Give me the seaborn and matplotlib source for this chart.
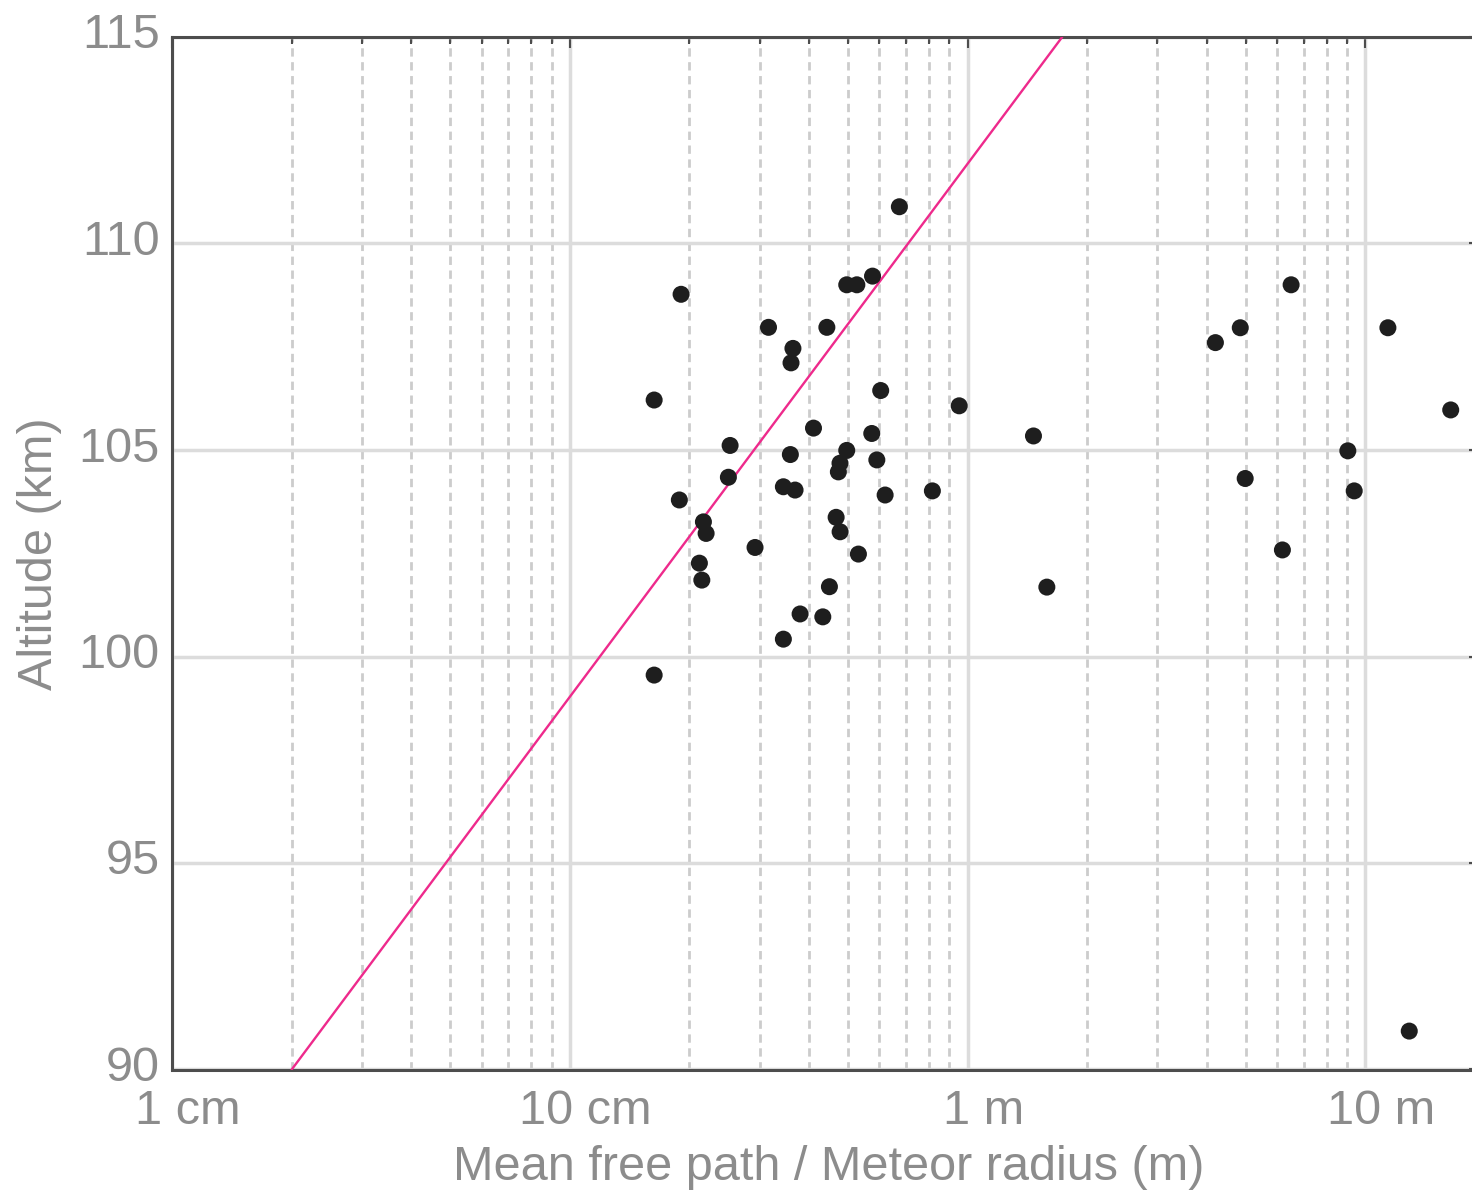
import numpy as np
import pandas as pd
import matplotlib
matplotlib.use("Agg")
import matplotlib.pyplot as plt
import matplotlib.transforms as mtransforms
from matplotlib.ticker import FixedLocator, NullFormatter
import seaborn as sns

# ---- data ----
radius_m = [0.674, 0.1905, 0.497, 0.527, 0.577, 0.316, 0.443, 0.364, 0.360, 0.163,
            0.605, 0.953, 0.410, 0.5745, 0.253, 0.3586, 0.497, 0.5916, 0.478, 0.4735,
            0.2505, 0.1886, 0.3444, 0.3685, 0.6207, 0.816, 0.2168, 0.2202, 0.4674, 0.4783,
            0.2923, 0.5318, 0.2118, 0.2148, 0.4496, 0.3794, 0.4327, 0.3444, 0.163,
            6.51, 4.85, 4.20, 11.4, 16.4, 1.465, 9.04, 4.99, 9.38, 6.19, 1.583, 12.9]
altitude_km = [110.89, 108.77, 109.0, 109.0, 109.21, 107.97, 107.97, 107.46, 107.11, 106.21,
               106.44, 106.07, 105.53, 105.40, 105.11, 104.89, 104.99, 104.76, 104.68, 104.47,
               104.34, 103.79, 104.11, 104.03, 103.91, 104.01, 103.26, 102.98, 103.37, 103.02,
               102.64, 102.48, 102.26, 101.85, 101.69, 101.03, 100.96, 100.42, 99.55,
               109.0, 107.96, 107.60, 107.96, 105.97, 105.34, 104.98, 104.31, 104.01, 102.58, 101.68, 90.93]
line_x = [0.02, 1.73]
line_y = [90, 115]
xtick_vals = [0.01, 0.1, 1, 10]
xtick_labels = ["1 cm", "10 cm", "1 m", "10 m"]
ytick_vals = [90, 95, 100, 105, 110, 115]

df = pd.DataFrame({"r": radius_m, "alt": altitude_km})
dl = pd.DataFrame({"r": line_x, "alt": line_y})

sns.set_theme(style="white")
plt.rcParams["font.family"] = ["Liberation Sans", "DejaVu Sans"]

fig = plt.figure(figsize=(14.72, 11.96), dpi=100)
ax = fig.add_axes([172/1472, 126.5/1196, (1485-172)/1472, (1159-126.5)/1196])
ax.set_xscale("log")
ax.set_xlim(0.01, 20)
ax.set_ylim(90, 115)
ax.set_axisbelow(True)

sns.lineplot(data=dl, x="r", y="alt", ax=ax, color="#ee2a8c", lw=1.7, zorder=3)
sns.scatterplot(data=df, x="r", y="alt", ax=ax, color="#1e1e1e", s=150,
                edgecolor="none", zorder=4)

ax.xaxis.set_major_locator(FixedLocator(xtick_vals))
minors = [m * 10.0**e for e in range(-2, 2) for m in range(2, 10)]
ax.xaxis.set_minor_locator(FixedLocator(minors))
ax.xaxis.set_minor_formatter(NullFormatter())
ax.set_xticks(xtick_vals)
ax.set_xticklabels(xtick_labels)
ax.set_yticks(ytick_vals)
ax.set_yticklabels([str(v) for v in ytick_vals])

ax.grid(True, which="major", axis="both", color="#dcdcdc", lw=2.5, ls="-")
ax.grid(True, which="minor", axis="x", color="#cccccc", lw=2.0, ls=(0, (3, 2)))

gray_txt = "#8c8c8c"
ax.tick_params(axis="both", which="both", direction="in", top=True, right=True,
               color="#4d4d4d", width=1.5, labelsize=35, labelcolor=gray_txt)
ax.tick_params(axis="x", which="major", length=8, pad=14)
ax.tick_params(axis="x", which="minor", length=5)
ax.tick_params(axis="y", which="major", length=11.5, pad=9)

for sp in ax.spines.values():
    sp.set_color("#4d4d4d")
    sp.set_linewidth(2.2)

ax.set_xlabel("Mean free path / Meteor radius (m)", fontsize=35, color=gray_txt, labelpad=8)
ax.set_ylabel("Altitude (km)", fontsize=35, color=gray_txt, labelpad=12)

offx = mtransforms.ScaledTranslation(16/100, 0, fig.dpi_scale_trans)
for lab in ax.get_xticklabels():
    lab.set_transform(lab.get_transform() + offx)
offy = mtransforms.ScaledTranslation(0, 6/100, fig.dpi_scale_trans)
for lab in ax.get_yticklabels():
    lab.set_transform(lab.get_transform() + offy)

fig.savefig("out.png", dpi=100, facecolor="white")
